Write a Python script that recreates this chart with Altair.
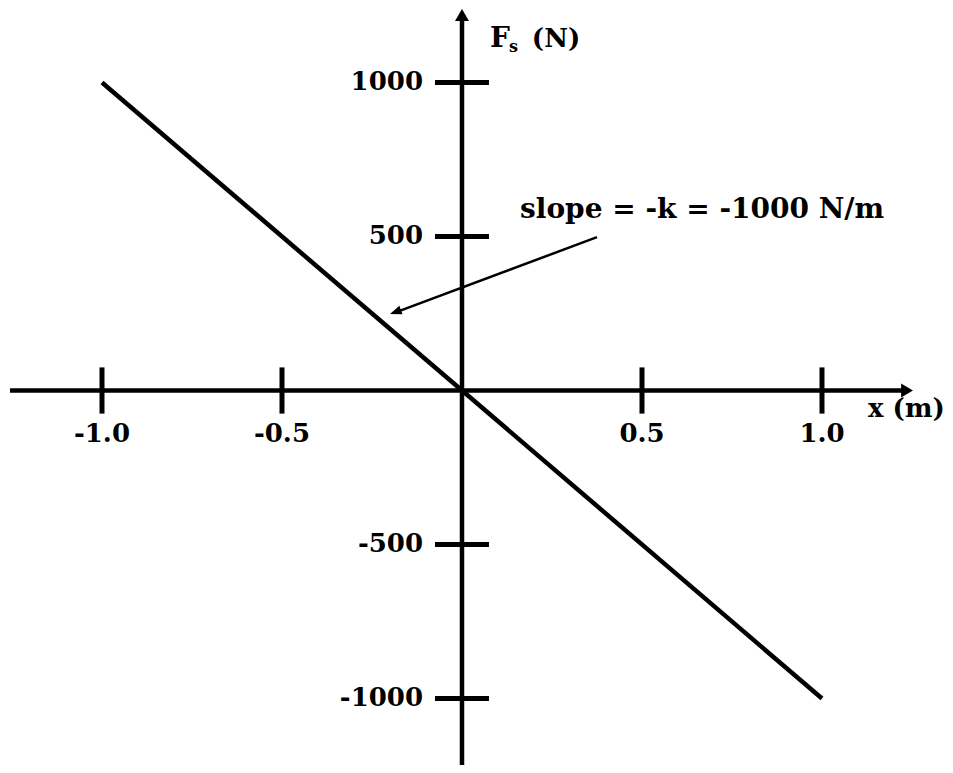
import altair as alt
import pandas as pd

# ---- data ----
line_x = [-1.0, 1.0]
line_y = [1000, -1000]
x_ticks = [-1.0, -0.5, 0.5, 1.0]
x_tick_labels = ["-1.0", "-0.5", "0.5", "1.0"]
y_ticks = [1000, 500, -500, -1000]
y_tick_labels = ["1000", "500", "-500", "-1000"]
slope_label = "slope = -k = -1000 N/m"
x_axis_title = "x (m)"

# ---- scales (data units) ----
X_DOMAIN = [-1.2611, 1.3417]
Y_DOMAIN = [-1215.9, 1241.9]
xs = alt.Scale(domain=X_DOMAIN, nice=False, zero=False)
ys = alt.Scale(domain=Y_DOMAIN, nice=False, zero=False)

FONT = "DejaVu Serif"
FS = 26


def enc(**extra):
    e = dict(x=alt.X("x:Q", scale=xs, axis=None), y=alt.Y("y:Q", scale=ys, axis=None))
    e.update(extra)
    return e


# main line
main = alt.Chart(pd.DataFrame({"x": line_x, "y": line_y})).mark_line(
    color="black", strokeWidth=4.5
).encode(**enc())

# axis lines
axes_df = pd.DataFrame({
    "x": [-1.2556, 0.0], "x2": [1.2333, 0.0],
    "y": [0.0, -1215.9], "y2": [0.0, 1219.0],
})
axes = alt.Chart(axes_df).mark_rule(color="black", strokeWidth=4.5).encode(
    **enc(x2="x2:Q", y2="y2:Q")
)

# tick marks
xt_df = pd.DataFrame({"x": x_ticks, "x2": x_ticks, "y": [-75.0] * 4, "y2": [75.0] * 4})
yt_df = pd.DataFrame({"x": [-0.075] * 4, "x2": [0.075] * 4, "y": y_ticks, "y2": y_ticks})
ticks = alt.Chart(pd.concat([xt_df, yt_df])).mark_rule(color="black", strokeWidth=5).encode(
    **enc(x2="x2:Q", y2="y2:Q")
)

# axis arrowheads (tip at the symbol origin)
AXIS_HEAD = "M0,0L-1,1.7L1,1.7Z"
x_head = alt.Chart(pd.DataFrame({"x": [1.2528], "y": [0.0]})).mark_point(
    shape=AXIS_HEAD, size=196, filled=True, opacity=1, color="black", strokeWidth=0, angle=90
).encode(**enc())
y_head = alt.Chart(pd.DataFrame({"x": [0.0], "y": [1238.6]})).mark_point(
    shape=AXIS_HEAD, size=196, filled=True, opacity=1, color="black", strokeWidth=0, angle=0
).encode(**enc())

# tick labels
xl = alt.Chart(pd.DataFrame({"x": x_ticks, "y": [0.0] * 4, "t": x_tick_labels})).mark_text(
    align="center", baseline="alphabetic", dy=51.5, font=FONT, fontSize=FS, fontWeight="bold", color="black"
).encode(**enc(text="t:N"))
yl = alt.Chart(pd.DataFrame({"x": [0.0] * 4, "y": y_ticks, "t": y_tick_labels})).mark_text(
    align="right", baseline="alphabetic", dx=-39, dy=7.5, font=FONT, fontSize=FS, fontWeight="bold", color="black"
).encode(**enc(text="t:N"))

# axis titles
xtitle = alt.Chart(pd.DataFrame({"x": [1.128], "y": [-86.0], "t": [x_axis_title]})).mark_text(
    align="left", baseline="alphabetic", font=FONT, fontSize=FS, fontWeight="bold", color="black"
).encode(**enc(text="t:N"))
ytitle_df = pd.DataFrame({
    "x": [0.0778, 0.1306, 0.194],
    "y": [1115.0, 1099.0, 1115.0],
    "t": ["F", "s", "(N)"],
    "fs": [28, 16, FS],
})
ytitle = alt.Chart(ytitle_df).mark_text(
    align="left", baseline="alphabetic", font=FONT, fontWeight="bold", color="black"
).encode(**enc(text="t:N", size=alt.Size("fs:Q", scale=None, legend=None)))

# slope annotation
ann_line = alt.Chart(pd.DataFrame({"x": [0.375], "y": [498.0], "x2": [-0.19], "y2": [251.0]})).mark_rule(
    color="black", strokeWidth=2.5
).encode(**enc(x2="x2:Q", y2="y2:Q"))
ann_head = alt.Chart(pd.DataFrame({"x": [-0.2], "y": [248.0]})).mark_point(
    shape="M0,0L-1,2.6L1,2.6Z", size=81, filled=True, opacity=1, color="black", strokeWidth=0, angle=249.6
).encode(**enc())
ann_text = alt.Chart(pd.DataFrame({"x": [0.667], "y": [560.0], "t": [slope_label]})).mark_text(
    align="center", baseline="alphabetic", font=FONT, fontSize=28, fontWeight="bold", color="black"
).encode(**enc(text="t:N"))

chart = alt.layer(
    axes, ticks, main, x_head, y_head, xl, yl, xtitle, ytitle, ann_line, ann_head, ann_text
).properties(
    width=937, height=757, autosize="none", padding=0, background="white"
).configure_view(stroke=None)

chart.save("out.html", embed_options={"renderer": "svg", "actions": False})
